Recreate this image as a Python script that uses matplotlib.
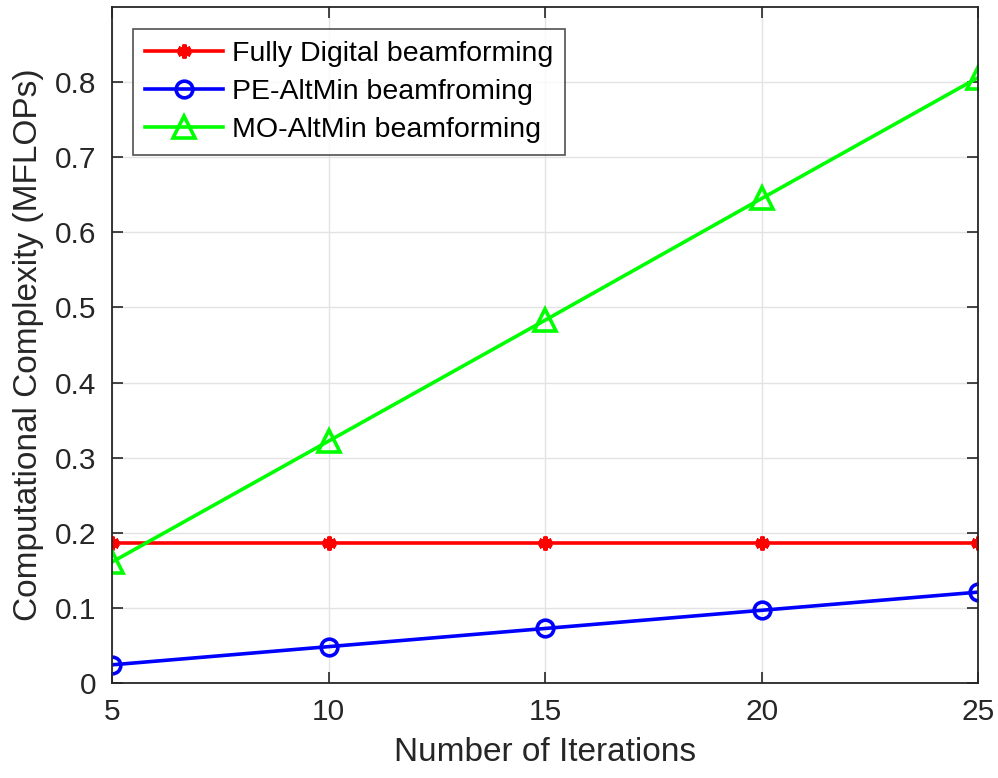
import numpy as np
import matplotlib.pyplot as plt

plt.rcParams['font.family'] = ['Liberation Sans', 'DejaVu Sans']

# Data
iterations = [5, 10, 15, 20, 25]
fully_digital = [0.187, 0.187, 0.187, 0.187, 0.187]
pe_altmin = [0.0242, 0.0484, 0.0726, 0.0968, 0.121]
mo_altmin = [0.161, 0.322, 0.483, 0.645, 0.806]

fig = plt.figure(figsize=(9.98, 7.78), dpi=100)
ax = fig.add_axes([0.1122, 0.1221, 0.868, 0.869])

ax.plot(iterations, fully_digital, color='#ff0000', linewidth=2.6, marker=(6, 2, 0),
        markersize=10, markeredgewidth=3, label='Fully Digital beamforming')
ax.plot(iterations, pe_altmin, color='#0000ff', linewidth=2.6, marker='o',
        markersize=12, markerfacecolor='none', markeredgewidth=2.6,
        label='PE-AltMin beamfroming')
ax.plot(iterations, mo_altmin, color='#00ff00', linewidth=2.6, marker='^',
        markersize=16, markerfacecolor='none', markeredgewidth=2.6,
        label='MO-AltMin beamforming')

ax.set_xlim(5, 25)
ax.set_ylim(0, 0.9)
ax.set_xticks([5, 10, 15, 20, 25])
ax.set_yticks(np.arange(0, 0.81, 0.1))
ax.set_yticklabels(['0', '0.1', '0.2', '0.3', '0.4', '0.5', '0.6', '0.7', '0.8'])

ax.grid(True, color='#e3e3e3', linewidth=1.0)
ax.set_axisbelow(True)
ax.tick_params(direction='in', top=True, right=True, length=8, width=1.2,
               labelsize=21.5, colors='#262626', pad=11)
for s in ax.spines.values():
    s.set_color('#262626')
    s.set_linewidth(1.3)

ax.set_xlabel('Number of Iterations', fontsize=24, color='#262626', labelpad=8)
ax.set_ylabel('Computational Complexity (MFLOPs)', fontsize=24, color='#262626', labelpad=8)

leg = ax.legend(loc='upper left', bbox_to_anchor=(0.024, 0.967), fontsize=20.5,
                frameon=True, fancybox=False, edgecolor='#262626', handlelength=2.75,
                borderpad=0.42, labelspacing=0.42, handletextpad=0.3, borderaxespad=0)
leg.get_frame().set_linewidth(1.2)

fig.savefig('out.png', dpi=100)
